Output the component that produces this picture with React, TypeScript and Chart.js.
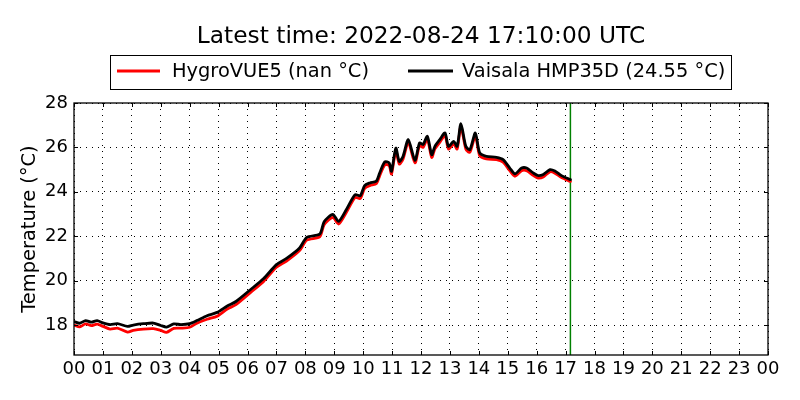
import { useEffect, useRef } from "react";
import { Chart, registerables } from "chart.js";

Chart.register(...registerables);

const titleText = "Latest time: 2022-08-24 17:10:00 UTC";
const yAxisTitle = "Temperature (°C)";
const seriesNames = ["HygroVUE5 (nan °C)", "Vaisala HMP35D (24.55 °C)"];
const seriesColors = ["#ff0000", "#000000"];

// time of day in hours (UTC)
const hours = [
  0, 0.2, 0.4, 0.6, 0.8, 1.0, 1.25, 1.5, 1.85, 2.05,
  2.4, 2.75, 3.0, 3.2, 3.45, 3.7, 4.0, 4.25, 4.6, 4.95,
  5.3, 5.6, 6.1, 6.55, 7.0, 7.35, 7.8, 8.05, 8.5, 8.65,
  8.95, 9.15, 9.43, 9.72, 9.9, 10.05, 10.23, 10.46, 10.57, 10.75,
  10.9, 10.98, 11.13, 11.25, 11.38, 11.56, 11.79, 11.95, 12.07, 12.22,
  12.37, 12.48, 12.65, 12.83, 12.95, 13.13, 13.25, 13.38, 13.55, 13.69,
  13.88, 14.03, 14.26, 14.61, 14.84, 15.07, 15.25, 15.48, 15.65, 15.88,
  16.05, 16.23, 16.46, 16.63, 16.86, 17.167,
];

const vaisalaTemp = [
  18.16, 18.08, 18.2, 18.13, 18.2, 18.1, 18.02, 18.06, 17.94, 18.0,
  18.06, 18.09, 17.98, 17.91, 18.05, 18.02, 18.06, 18.2, 18.42, 18.57,
  18.86, 19.06, 19.59, 20.08, 20.72, 21.0, 21.47, 21.95, 22.1, 22.65,
  22.98, 22.67, 23.23, 23.87, 23.82, 24.28, 24.4, 24.49, 24.85, 25.35,
  25.3, 24.92, 25.97, 25.37, 25.6, 26.35, 25.42, 26.2, 26.13, 26.5,
  25.67, 26.05, 26.35, 26.65, 26.05, 26.27, 26.05, 27.07, 26.05, 25.9,
  26.65, 25.75, 25.6, 25.55, 25.45, 25.07, 24.81, 25.07, 25.07, 24.85,
  24.73, 24.78, 25.0, 24.94, 24.73, 24.55,
];

const hygroTemp = [
  18.0, 17.92, 18.05, 17.97, 18.04, 17.94, 17.82, 17.86, 17.68, 17.76,
  17.82, 17.84, 17.76, 17.67, 17.85, 17.86, 17.9, 18.08, 18.26, 18.4,
  18.72, 18.92, 19.46, 19.95, 20.6, 20.88, 21.35, 21.82, 21.98, 22.52,
  22.85, 22.55, 23.1, 23.74, 23.7, 24.15, 24.28, 24.37, 24.72, 25.22,
  25.18, 24.8, 25.84, 25.25, 25.48, 26.22, 25.3, 26.08, 26.0, 26.38,
  25.55, 25.93, 26.23, 26.53, 25.93, 26.15, 25.93, 26.95, 25.93, 25.78,
  26.52, 25.63, 25.48, 25.45, 25.33, 24.95, 24.7, 24.95, 24.95, 24.74,
  24.62, 24.67, 24.9, 24.84, 24.64, 24.47,
];

const latestHour = 17.1667;

const xTickValues = [
  0, 1, 2, 3, 4, 5, 6, 7, 8, 9, 10, 11, 12,
  13, 14, 15, 16, 17, 18, 19, 20, 21, 22, 23, 24,
];
const xTickLabels = [
  "00", "01", "02", "03", "04", "05", "06", "07", "08", "09", "10", "11", "12",
  "13", "14", "15", "16", "17", "18", "19", "20", "21", "22", "23", "00",
];
const yTickValues = [18, 20, 22, 24, 26, 28];
const yMin = 16.65;
const yMax = 28;

const FONT = '"DejaVu Sans", "Liberation Sans", sans-serif';

const decorPlugin = {
  id: "decor",
  beforeDraw(chart: any) {
    const ctx = chart.ctx;
    ctx.save();
    ctx.fillStyle = "#ffffff";
    ctx.fillRect(0, 0, chart.width, chart.height);
    ctx.restore();
  },
  afterDraw(chart: any) {
    const ctx = chart.ctx;
    const { left, right, top, bottom } = chart.chartArea;
    const xs = chart.scales.x;
    const ys = chart.scales.y;
    ctx.save();
    // inward ticks
    ctx.strokeStyle = "#000";
    ctx.lineWidth = 1;
    const tl = 4;
    xTickValues.forEach((v) => {
      const px = Math.round(xs.getPixelForValue(v)) + 0.5;
      ctx.beginPath();
      ctx.moveTo(px, bottom);
      ctx.lineTo(px, bottom - tl);
      ctx.moveTo(px, top);
      ctx.lineTo(px, top + tl);
      ctx.stroke();
    });
    yTickValues.forEach((v) => {
      const py = Math.round(ys.getPixelForValue(v)) + 0.5;
      ctx.beginPath();
      ctx.moveTo(left, py);
      ctx.lineTo(left + tl, py);
      ctx.moveTo(right, py);
      ctx.lineTo(right - tl, py);
      ctx.stroke();
    });
    // frame
    ctx.lineWidth = 1.3;
    ctx.strokeRect(left, top, right - left, bottom - top);

    // title
    ctx.fillStyle = "#000";
    ctx.font = `23.3px ${FONT}`;
    ctx.textAlign = "center";
    ctx.textBaseline = "alphabetic";
    ctx.fillText(titleText, (left + right) / 2, 43);

    // legend
    ctx.lineWidth = 1;
    ctx.strokeStyle = "#000";
    ctx.fillStyle = "#fff";
    ctx.fillRect(110.5, 55.5, 621, 34);
    ctx.strokeRect(110.5, 55.5, 621, 34);
    const ly = 71;
    const items = [
      { x0: 117, x1: 160, tx: 172 },
      { x0: 408, x1: 453, tx: 462 },
    ];
    items.forEach((it, i) => {
      ctx.strokeStyle = seriesColors[i];
      ctx.lineWidth = 2.8;
      ctx.beginPath();
      ctx.moveTo(it.x0, ly);
      ctx.lineTo(it.x1, ly);
      ctx.stroke();
      ctx.fillStyle = "#000";
      ctx.font = `19.4px ${FONT}`;
      ctx.textAlign = "left";
      ctx.textBaseline = "middle";
      ctx.fillText(seriesNames[i], it.tx, ly + 1);
    });
    ctx.restore();
  },
};

export default function App() {
  const ref = useRef<HTMLCanvasElement | null>(null);

  useEffect(() => {
    if (!ref.current) return;
    const black = hours.map((h, i) => ({ x: h, y: vaisalaTemp[i] }));
    const red = hours.map((h, i) => ({ x: h, y: hygroTemp[i] }));
    const lineStyle = {
      borderWidth: 2.8,
      pointRadius: 0,
      tension: 0.25,
      borderJoinStyle: "round" as const,
      borderCapStyle: "round" as const,
      fill: false,
    };
    const chart = new Chart(ref.current, {
      type: "line",
      data: {
        datasets: [
          {
            label: seriesNames[1],
            data: black,
            borderColor: seriesColors[1],
            ...lineStyle,
          },
          {
            label: seriesNames[0],
            data: red,
            borderColor: seriesColors[0],
            ...lineStyle,
          },
          {
            label: "latest",
            data: [
              { x: latestHour, y: yMin },
              { x: latestHour, y: yMax },
            ],
            borderColor: "#008000",
            borderWidth: 1.5,
            pointRadius: 0,
            fill: false,
          },
        ],
      },
      options: {
        responsive: false,
        animation: false,
        events: [],
        layout: { padding: { top: 103, right: 32, left: 0, bottom: 0 } },
        plugins: {
          legend: { display: false },
          title: { display: false },
          tooltip: { enabled: false },
        },
        scales: {
          x: {
            type: "linear",
            min: 0,
            max: 24,
            afterBuildTicks: (scale: any) => {
              scale.ticks = xTickValues.map((v) => ({ value: v }));
            },
            afterFit: (scale: any) => {
              scale.height = 45;
            },
            ticks: {
              autoSkip: false,
              maxRotation: 0,
              padding: 4,
              color: "#000",
              font: { family: FONT, size: 18 },
              callback: (v: any) => xTickLabels[xTickValues.indexOf(Number(v))],
            },
            grid: {
              color: "#000",
              lineWidth: 1,
              drawTicks: false,
            },
            border: { display: false, dash: [1, 5] },
          },
          y: {
            type: "linear",
            min: yMin,
            max: yMax,
            afterBuildTicks: (scale: any) => {
              scale.ticks = yTickValues.map((v) => ({ value: v }));
            },
            afterFit: (scale: any) => {
              scale.width = 74;
            },
            ticks: {
              padding: 6,
              color: "#000",
              font: { family: FONT, size: 18 },
              callback: (v: any) => String(v),
            },
            grid: {
              color: "#000",
              lineWidth: 1,
              drawTicks: false,
            },
            border: { display: false, dash: [1, 5] },
            title: {
              display: true,
              text: yAxisTitle,
              color: "#000",
              font: { family: FONT, size: 19.4 },
              padding: { top: 18, bottom: 0 },
            },
          },
        },
      },
      plugins: [decorPlugin],
    });
    return () => chart.destroy();
  }, []);

  return (
    <div
      style={{
        position: "fixed",
        left: 0,
        top: 0,
        width: 800,
        height: 400,
        background: "#fff",
      }}
    >
      <canvas ref={ref} width={800} height={400} />
    </div>
  );
}
